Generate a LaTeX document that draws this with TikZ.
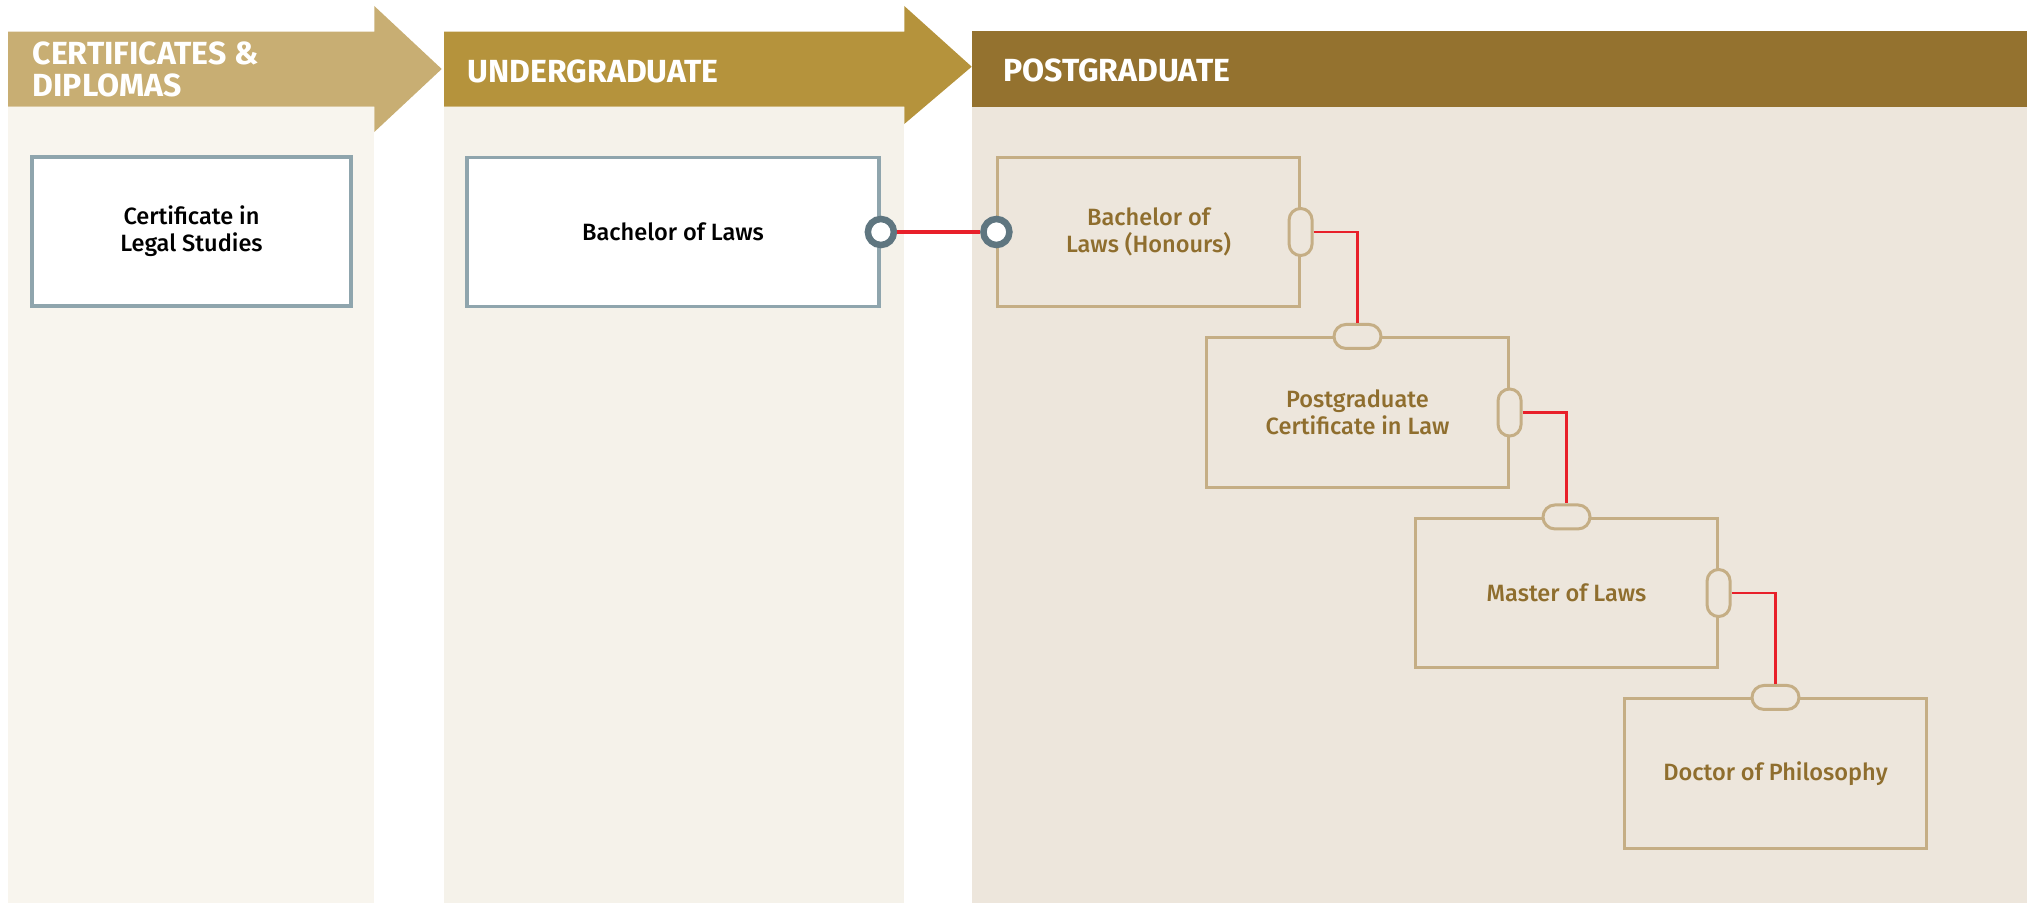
\documentclass[tikz,border=0pt]{standalone}
\usepackage{fontspec}
\setmainfont{Fira Sans}
\newfontfamily\boxfont{Fira Sans Medium}
\usetikzlibrary{positioning,calc}

\definecolor{certgold}{HTML}{C8AE73}
\definecolor{ugold}{HTML}{B5933C}
\definecolor{pgbrown}{HTML}{94722F}
\definecolor{certbg}{HTML}{F8F5EE}
\definecolor{ugbg}{HTML}{F5F2EA}
\definecolor{pgbg}{HTML}{EDE6DC}
\definecolor{slateline}{HTML}{8FA5AD}
\definecolor{slatedark}{HTML}{5F7680}
\definecolor{tanline}{HTML}{C5AE85}
\definecolor{pathred}{HTML}{E8202A}
\definecolor{pgtext}{HTML}{8F6E2E}

\tikzstyle{headtext} = [anchor=base west, inner sep=0, text=white, align=left,
  font=\bfseries\fontsize{9.1}{9.1}\selectfont]
\tikzstyle{ugbox} = [draw=slateline, line width=1pt, fill=white, rectangle, inner sep=0,
  minimum height=1.49cm, align=center, font=\boxfont\fontsize{6.7}{7.7}\selectfont]
\tikzstyle{pgbox} = [draw=tanline, line width=0.85pt, rectangle, inner sep=0,
  minimum width=3.01cm, minimum height=1.49cm, align=center, text=pgtext,
  font=\boxfont\fontsize{6.7}{7.7}\selectfont]
\tikzstyle{port} = [circle, draw=slatedark, line width=1.85pt, fill=white,
  minimum size=0.26cm, inner sep=0]
\tikzstyle{vpill} = [rectangle, rounded corners=0.115cm, draw=tanline, line width=0.85pt,
  fill=pgbg, minimum width=0.23cm, minimum height=0.47cm, inner sep=0]
\tikzstyle{hpill} = [rectangle, rounded corners=0.12cm, draw=tanline, line width=0.85pt,
  fill=pgbg, minimum width=0.47cm, minimum height=0.24cm, inner sep=0]
\tikzstyle{link} = [draw=pathred, line width=0.8pt]

\begin{document}
\begin{tikzpicture}[x=0.01cm, y=-0.01cm]
  \useasboundingbox (0,0) rectangle (2035,903);

  % columns
  \fill[certbg] (8,106.7) rectangle (374.3,903);
  \fill[ugbg] (444,106.7) rectangle (904.3,903);
  \fill[pgbg] (971.7,106.7) rectangle (2027,903);

  % header arrows
  \fill[certgold] (8,31.7) -- (374.3,31.7) -- (374.3,6) -- (441.7,69)
    -- (374.3,132) -- (374.3,106.7) -- (8,106.7) -- cycle;
  \fill[ugold] (444,31.7) -- (904.3,31.7) -- (904.3,6) -- (971.7,66.7)
    -- (904.3,124) -- (904.3,106.7) -- (444,106.7) -- cycle;
  \fill[pgbrown] (971.7,31) rectangle (2027,106.7);

  \node[headtext] (certhead) at (32,97) {CERTIFICATES \&\\DIPLOMAS};
  \node[headtext] (ughead) at (467,82) {UNDERGRADUATE};
  \node[headtext] (pghead) at (1002.5,81) {POSTGRADUATE};

  % boxes
  \node[ugbox, minimum width=3.19cm] (cert) at (191.5,231.5) {Certificate in\\Legal Studies};
  \node[ugbox, minimum width=4.12cm] (bachelor) at (673,232) {Bachelor of Laws};

  \node[pgbox] (honours) at (1148.5,232) {Bachelor of\\Laws (Honours)};
  \node[pgbox] (pgcert) at (1357.5,412.5) {Postgraduate\\Certificate in Law};
  \node[pgbox] (master) at (1566.5,593) {Master of Laws};
  \node[pgbox] (phd) at (1775.5,773.5) {Doctor of Philosophy};

  % pills
  \node[vpill] (hon-out) at (honours.east) {};
  \node[hpill] (pg-in) at (pgcert.north) {};
  \node[vpill] (pg-out) at (pgcert.east) {};
  \node[hpill] (ma-in) at (master.north) {};
  \node[vpill] (ma-out) at (master.east) {};
  \node[hpill] (phd-in) at (phd.north) {};

  % links
  \draw[link] (hon-out.east) -| (pg-in.north);
  \draw[link] (pg-out.east) -| (ma-in.north);
  \draw[link] (ma-out.east) -| (phd-in.north);

  \node[port] (bach-out) at (bachelor.east) {};
  \node[port] (hon-in) at (honours.west) {};
  \draw[pathred, line width=1.42pt] (bach-out.east) -- (hon-in.west);
\end{tikzpicture}
\end{document}
